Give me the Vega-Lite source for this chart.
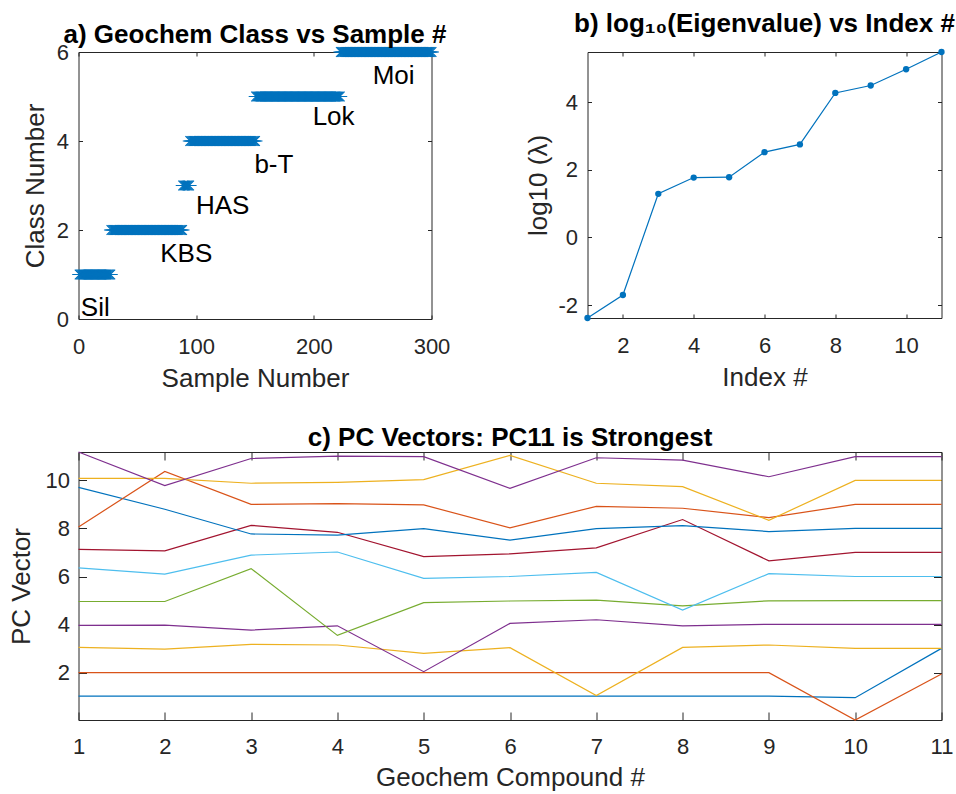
{
  "$schema": "https://vega.github.io/schema/vega-lite/v6.json",
  "padding": {"left": 7.5, "top": 10, "right": 0, "bottom": 0},
  "background": "white",
  "config": {
    "font": "Liberation Sans",
    "view": {"stroke": "#262626", "strokeWidth": 1},
    "axis": {"domain": false, "grid": false, "labelFont": "Liberation Sans", "labelFontSize": 22, "labelColor": "#262626", "titleFont": "Liberation Sans", "titleFontSize": 26, "titleFontWeight": "normal", "titleColor": "#262626", "tickColor": "#262626", "tickWidth": 1, "tickSize": -4, "labelFlush": false, "labelOverlap": false, "labelExpr": "'' + datum.value"},
    "title": {"font": "Liberation Sans", "fontSize": 26, "fontWeight": "bold", "color": "#000000", "baseline": "alphabetic", "anchor": "middle"}
  },
  "datasets": {
    "samples": [
      {"s":1,"c":1},{"s":2,"c":1},{"s":3,"c":1},{"s":4,"c":1},{"s":5,"c":1},{"s":6,"c":1},{"s":7,"c":1},{"s":8,"c":1},{"s":9,"c":1},{"s":10,"c":1},
      {"s":11,"c":1},{"s":12,"c":1},{"s":13,"c":1},{"s":14,"c":1},{"s":15,"c":1},{"s":16,"c":1},{"s":17,"c":1},{"s":18,"c":1},{"s":19,"c":1},{"s":20,"c":1},
      {"s":21,"c":1},{"s":22,"c":1},{"s":23,"c":1},{"s":24,"c":1},{"s":25,"c":1},{"s":26,"c":1},{"s":27,"c":1},
      {"s":28,"c":2},{"s":29,"c":2},{"s":30,"c":2},{"s":31,"c":2},{"s":32,"c":2},{"s":33,"c":2},{"s":34,"c":2},{"s":35,"c":2},{"s":36,"c":2},{"s":37,"c":2},
      {"s":38,"c":2},{"s":39,"c":2},{"s":40,"c":2},{"s":41,"c":2},{"s":42,"c":2},{"s":43,"c":2},{"s":44,"c":2},{"s":45,"c":2},{"s":46,"c":2},{"s":47,"c":2},
      {"s":48,"c":2},{"s":49,"c":2},{"s":50,"c":2},{"s":51,"c":2},{"s":52,"c":2},{"s":53,"c":2},{"s":54,"c":2},{"s":55,"c":2},{"s":56,"c":2},{"s":57,"c":2},
      {"s":58,"c":2},{"s":59,"c":2},{"s":60,"c":2},{"s":61,"c":2},{"s":62,"c":2},{"s":63,"c":2},{"s":64,"c":2},{"s":65,"c":2},{"s":66,"c":2},{"s":67,"c":2},
      {"s":68,"c":2},{"s":69,"c":2},{"s":70,"c":2},{"s":71,"c":2},{"s":72,"c":2},{"s":73,"c":2},{"s":74,"c":2},{"s":75,"c":2},{"s":76,"c":2},{"s":77,"c":2},
      {"s":78,"c":2},{"s":79,"c":2},{"s":80,"c":2},{"s":81,"c":2},{"s":82,"c":2},{"s":83,"c":2},{"s":84,"c":2},{"s":85,"c":2},{"s":86,"c":2},{"s":87,"c":2},
      {"s":88,"c":2},
      {"s":89,"c":3},{"s":90,"c":3},{"s":91,"c":3},{"s":92,"c":3},{"s":93,"c":3},{"s":94,"c":3},
      {"s":95,"c":4},{"s":96,"c":4},{"s":97,"c":4},{"s":98,"c":4},{"s":99,"c":4},{"s":100,"c":4},{"s":101,"c":4},{"s":102,"c":4},{"s":103,"c":4},{"s":104,"c":4},
      {"s":105,"c":4},{"s":106,"c":4},{"s":107,"c":4},{"s":108,"c":4},{"s":109,"c":4},{"s":110,"c":4},{"s":111,"c":4},{"s":112,"c":4},{"s":113,"c":4},{"s":114,"c":4},
      {"s":115,"c":4},{"s":116,"c":4},{"s":117,"c":4},{"s":118,"c":4},{"s":119,"c":4},{"s":120,"c":4},{"s":121,"c":4},{"s":122,"c":4},{"s":123,"c":4},{"s":124,"c":4},
      {"s":125,"c":4},{"s":126,"c":4},{"s":127,"c":4},{"s":128,"c":4},{"s":129,"c":4},{"s":130,"c":4},{"s":131,"c":4},{"s":132,"c":4},{"s":133,"c":4},{"s":134,"c":4},
      {"s":135,"c":4},{"s":136,"c":4},{"s":137,"c":4},{"s":138,"c":4},{"s":139,"c":4},{"s":140,"c":4},{"s":141,"c":4},{"s":142,"c":4},{"s":143,"c":4},{"s":144,"c":4},
      {"s":145,"c":4},{"s":146,"c":4},{"s":147,"c":4},{"s":148,"c":4},{"s":149,"c":4},{"s":150,"c":4},
      {"s":151,"c":5},{"s":152,"c":5},{"s":153,"c":5},{"s":154,"c":5},{"s":155,"c":5},{"s":156,"c":5},{"s":157,"c":5},{"s":158,"c":5},{"s":159,"c":5},{"s":160,"c":5},
      {"s":161,"c":5},{"s":162,"c":5},{"s":163,"c":5},{"s":164,"c":5},{"s":165,"c":5},{"s":166,"c":5},{"s":167,"c":5},{"s":168,"c":5},{"s":169,"c":5},{"s":170,"c":5},
      {"s":171,"c":5},{"s":172,"c":5},{"s":173,"c":5},{"s":174,"c":5},{"s":175,"c":5},{"s":176,"c":5},{"s":177,"c":5},{"s":178,"c":5},{"s":179,"c":5},{"s":180,"c":5},
      {"s":181,"c":5},{"s":182,"c":5},{"s":183,"c":5},{"s":184,"c":5},{"s":185,"c":5},{"s":186,"c":5},{"s":187,"c":5},{"s":188,"c":5},{"s":189,"c":5},{"s":190,"c":5},
      {"s":191,"c":5},{"s":192,"c":5},{"s":193,"c":5},{"s":194,"c":5},{"s":195,"c":5},{"s":196,"c":5},{"s":197,"c":5},{"s":198,"c":5},{"s":199,"c":5},{"s":200,"c":5},
      {"s":201,"c":5},{"s":202,"c":5},{"s":203,"c":5},{"s":204,"c":5},{"s":205,"c":5},{"s":206,"c":5},{"s":207,"c":5},{"s":208,"c":5},{"s":209,"c":5},{"s":210,"c":5},
      {"s":211,"c":5},{"s":212,"c":5},{"s":213,"c":5},{"s":214,"c":5},{"s":215,"c":5},{"s":216,"c":5},{"s":217,"c":5},{"s":218,"c":5},{"s":219,"c":5},{"s":220,"c":5},
      {"s":221,"c":5},{"s":222,"c":5},
      {"s":223,"c":6},{"s":224,"c":6},{"s":225,"c":6},{"s":226,"c":6},{"s":227,"c":6},{"s":228,"c":6},{"s":229,"c":6},{"s":230,"c":6},
      {"s":231,"c":6},{"s":232,"c":6},{"s":233,"c":6},{"s":234,"c":6},{"s":235,"c":6},{"s":236,"c":6},{"s":237,"c":6},{"s":238,"c":6},{"s":239,"c":6},{"s":240,"c":6},
      {"s":241,"c":6},{"s":242,"c":6},{"s":243,"c":6},{"s":244,"c":6},{"s":245,"c":6},{"s":246,"c":6},{"s":247,"c":6},{"s":248,"c":6},{"s":249,"c":6},{"s":250,"c":6},
      {"s":251,"c":6},{"s":252,"c":6},{"s":253,"c":6},{"s":254,"c":6},{"s":255,"c":6},{"s":256,"c":6},{"s":257,"c":6},{"s":258,"c":6},{"s":259,"c":6},{"s":260,"c":6},
      {"s":261,"c":6},{"s":262,"c":6},{"s":263,"c":6},{"s":264,"c":6},{"s":265,"c":6},{"s":266,"c":6},{"s":267,"c":6},{"s":268,"c":6},{"s":269,"c":6},{"s":270,"c":6},
      {"s":271,"c":6},{"s":272,"c":6},{"s":273,"c":6},{"s":274,"c":6},{"s":275,"c":6},{"s":276,"c":6},{"s":277,"c":6},{"s":278,"c":6},{"s":279,"c":6},{"s":280,"c":6},
      {"s":281,"c":6},{"s":282,"c":6},{"s":283,"c":6},{"s":284,"c":6},{"s":285,"c":6},{"s":286,"c":6},{"s":287,"c":6},{"s":288,"c":6},{"s":289,"c":6},{"s":290,"c":6},
      {"s":291,"c":6},{"s":292,"c":6},{"s":293,"c":6},{"s":294,"c":6},{"s":295,"c":6},{"s":296,"c":6},{"s":297,"c":6},{"s":298,"c":6},{"s":299,"c":6},{"s":300,"c":6}
    ],
    "labels": [
      {"x":2,"y":0.07,"t":"Sil"},
      {"x":69.5,"y":1.27,"t":"KBS"},
      {"x":99.8,"y":2.35,"t":"HAS"},
      {"x":149.5,"y":3.29,"t":"b-T"},
      {"x":199,"y":4.36,"t":"Lok"},
      {"x":250,"y":5.29,"t":"Moi"}
    ],
    "eig": [
      {"i":1,"v":-2.38},{"i":2,"v":-1.70},{"i":3,"v":1.29},{"i":4,"v":1.77},{"i":5,"v":1.78},{"i":6,"v":2.52},
      {"i":7,"v":2.75},{"i":8,"v":4.27},{"i":9,"v":4.49},{"i":10,"v":4.97},{"i":11,"v":5.48}
    ],
    "pc": [
      {"pc":1,"k":1,"v":1.02},{"pc":1,"k":2,"v":1.02},{"pc":1,"k":3,"v":1.02},{"pc":1,"k":4,"v":1.02},{"pc":1,"k":5,"v":1.02},{"pc":1,"k":6,"v":1.02},{"pc":1,"k":7,"v":1.02},{"pc":1,"k":8,"v":1.02},{"pc":1,"k":9,"v":1.02},{"pc":1,"k":10,"v":0.96},{"pc":1,"k":11,"v":3.01},
      {"pc":2,"k":1,"v":2.0},{"pc":2,"k":2,"v":2.0},{"pc":2,"k":3,"v":2.0},{"pc":2,"k":4,"v":2.0},{"pc":2,"k":5,"v":2.0},{"pc":2,"k":6,"v":2.0},{"pc":2,"k":7,"v":2.0},{"pc":2,"k":8,"v":2.0},{"pc":2,"k":9,"v":2.0},{"pc":2,"k":10,"v":0.03},{"pc":2,"k":11,"v":1.94},
      {"pc":3,"k":1,"v":3.05},{"pc":3,"k":2,"v":2.98},{"pc":3,"k":3,"v":3.18},{"pc":3,"k":4,"v":3.15},{"pc":3,"k":5,"v":2.80},{"pc":3,"k":6,"v":3.04},{"pc":3,"k":7,"v":1.05},{"pc":3,"k":8,"v":3.05},{"pc":3,"k":9,"v":3.15},{"pc":3,"k":10,"v":3.01},{"pc":3,"k":11,"v":3.01},
      {"pc":4,"k":1,"v":3.97},{"pc":4,"k":2,"v":3.98},{"pc":4,"k":3,"v":3.77},{"pc":4,"k":4,"v":3.95},{"pc":4,"k":5,"v":2.04},{"pc":4,"k":6,"v":4.05},{"pc":4,"k":7,"v":4.20},{"pc":4,"k":8,"v":3.95},{"pc":4,"k":9,"v":4.01},{"pc":4,"k":10,"v":4.01},{"pc":4,"k":11,"v":4.01},
      {"pc":5,"k":1,"v":4.96},{"pc":5,"k":2,"v":4.96},{"pc":5,"k":3,"v":6.33},{"pc":5,"k":4,"v":3.55},{"pc":5,"k":5,"v":4.91},{"pc":5,"k":6,"v":4.98},{"pc":5,"k":7,"v":5.02},{"pc":5,"k":8,"v":4.78},{"pc":5,"k":9,"v":4.99},{"pc":5,"k":10,"v":5.0},{"pc":5,"k":11,"v":5.0},
      {"pc":6,"k":1,"v":6.36},{"pc":6,"k":2,"v":6.10},{"pc":6,"k":3,"v":6.89},{"pc":6,"k":4,"v":7.02},{"pc":6,"k":5,"v":5.92},{"pc":6,"k":6,"v":6.0},{"pc":6,"k":7,"v":6.17},{"pc":6,"k":8,"v":4.60},{"pc":6,"k":9,"v":6.12},{"pc":6,"k":10,"v":6.0},{"pc":6,"k":11,"v":6.0},
      {"pc":7,"k":1,"v":7.13},{"pc":7,"k":2,"v":7.07},{"pc":7,"k":3,"v":8.13},{"pc":7,"k":4,"v":7.84},{"pc":7,"k":5,"v":6.83},{"pc":7,"k":6,"v":6.94},{"pc":7,"k":7,"v":7.19},{"pc":7,"k":8,"v":8.37},{"pc":7,"k":9,"v":6.65},{"pc":7,"k":10,"v":7.0},{"pc":7,"k":11,"v":7.0},
      {"pc":8,"k":1,"v":9.71},{"pc":8,"k":2,"v":8.80},{"pc":8,"k":3,"v":7.77},{"pc":8,"k":4,"v":7.72},{"pc":8,"k":5,"v":7.99},{"pc":8,"k":6,"v":7.51},{"pc":8,"k":7,"v":7.99},{"pc":8,"k":8,"v":8.12},{"pc":8,"k":9,"v":7.87},{"pc":8,"k":10,"v":8.0},{"pc":8,"k":11,"v":8.0},
      {"pc":9,"k":1,"v":8.06},{"pc":9,"k":2,"v":10.37},{"pc":9,"k":3,"v":9.0},{"pc":9,"k":4,"v":9.03},{"pc":9,"k":5,"v":8.98},{"pc":9,"k":6,"v":8.02},{"pc":9,"k":7,"v":8.92},{"pc":9,"k":8,"v":8.84},{"pc":9,"k":9,"v":8.45},{"pc":9,"k":10,"v":9.0},{"pc":9,"k":11,"v":9.0},
      {"pc":10,"k":1,"v":10.08},{"pc":10,"k":2,"v":10.08},{"pc":10,"k":3,"v":9.88},{"pc":10,"k":4,"v":9.92},{"pc":10,"k":5,"v":10.03},{"pc":10,"k":6,"v":11.04},{"pc":10,"k":7,"v":9.88},{"pc":10,"k":8,"v":9.74},{"pc":10,"k":9,"v":8.34},{"pc":10,"k":10,"v":10.0},{"pc":10,"k":11,"v":10.0},
      {"pc":11,"k":1,"v":11.18},{"pc":11,"k":2,"v":9.78},{"pc":11,"k":3,"v":10.91},{"pc":11,"k":4,"v":11.01},{"pc":11,"k":5,"v":10.99},{"pc":11,"k":6,"v":9.67},{"pc":11,"k":7,"v":10.94},{"pc":11,"k":8,"v":10.84},{"pc":11,"k":9,"v":10.15},{"pc":11,"k":10,"v":10.99},{"pc":11,"k":11,"v":10.99}
    ]
  },
  "vconcat": [
    {
      "hconcat": [
        {
          "width": 353, "height": 267,
          "title": {"text": "a) Geochem Class vs Sample #", "offset": -7},
          "layer": [
            {
              "data": {"name": "samples"},
              "mark": {"type": "point", "shape": "M-1,0L1,0M0,-0.65L0,0.65M-0.65,-0.65L0.65,0.65M-0.65,0.65L0.65,-0.65", "filled": false, "stroke": "#0072BD", "strokeWidth": 1.2, "size": 225, "opacity": 1},
              "encoding": {
                "x": {"field": "s", "type": "quantitative", "scale": {"domain": [0, 300], "nice": false, "zero": false}, "axis": {"values": [0, 100, 200, 300], "title": "Sample Number", "labelPadding": 21, "titlePadding": 8}},
                "y": {"field": "c", "type": "quantitative", "scale": {"domain": [0, 6], "nice": false, "zero": false}, "axis": {"values": [0, 2, 4, 6], "title": "Class Number", "labelPadding": 14, "titlePadding": 8}}
              }
            },
            {
              "data": {"name": "labels"},
              "mark": {"type": "text", "align": "left", "baseline": "alphabetic", "fontSize": 26, "color": "#000000", "font": "Liberation Sans"},
              "encoding": {
                "x": {"field": "x", "type": "quantitative", "axis": {"orient": "top", "labels": false, "title": null, "values": [0, 100, 200, 300]}},
                "y": {"field": "y", "type": "quantitative", "axis": {"orient": "right", "labels": false, "title": null, "values": [0, 2, 4, 6]}},
                "text": {"field": "t"}
              }
            }
          ],
          "resolve": {"axis": {"x": "independent", "y": "independent"}}
        },
        {
          "width": 354, "height": 266,
          "title": {"text": "b) log₁₀(Eigenvalue) vs Index #", "offset": 12},
          "data": {"name": "eig"},
          "layer": [
            {
              "mark": {"type": "line", "color": "#0072BD", "strokeWidth": 1.2},
              "encoding": {
                "x": {"field": "i", "type": "quantitative", "scale": {"domain": [1, 11], "nice": false, "zero": false}, "axis": {"values": [2, 4, 6, 8, 10], "title": "Index #", "labelPadding": 21, "titlePadding": 8}},
                "y": {"field": "v", "type": "quantitative", "scale": {"domain": [-2.38, 5.48], "nice": false, "zero": false}, "axis": {"values": [-2, 0, 2, 4], "title": "log10 (λ)", "labelPadding": 14, "titlePadding": 6}}
              }
            },
            {
              "mark": {"type": "point", "filled": true, "color": "#0072BD", "size": 40, "opacity": 1},
              "encoding": {
                "x": {"field": "i", "type": "quantitative", "axis": {"orient": "top", "labels": false, "title": null, "values": [2, 4, 6, 8, 10]}},
                "y": {"field": "v", "type": "quantitative", "axis": {"orient": "right", "labels": false, "title": null, "values": [-2, 0, 2, 4]}}
              }
            }
          ],
          "resolve": {"axis": {"x": "independent", "y": "independent"}}
        }
      ],
      "spacing": 156,
      "bounds": "flush"
    },
    {
      "width": 863, "height": 268,
      "title": {"text": "c) PC Vectors: PC11 is Strongest", "offset": -1},
      "data": {"name": "pc"},
      "layer": [
        {
          "mark": {"type": "line", "strokeWidth": 1.2},
          "encoding": {
            "x": {"field": "k", "type": "quantitative", "scale": {"domain": [1, 11], "nice": false, "zero": false}, "axis": {"values": [1, 2, 3, 4, 5, 6, 7, 8, 9, 10, 11], "title": "Geochem Compound #", "tickSize": -8, "labelPadding": 24, "titlePadding": 7}},
            "y": {"field": "v", "type": "quantitative", "scale": {"domain": [0.03, 11.18], "nice": false, "zero": false}, "axis": {"values": [2, 4, 6, 8, 10], "title": "PC Vector", "tickSize": -8, "labelPadding": 17, "titlePadding": 10.5}},
            "color": {"field": "pc", "type": "nominal", "scale": {"domain": [1, 2, 3, 4, 5, 6, 7, 8, 9, 10, 11], "range": ["#0072BD", "#D95319", "#EDB120", "#7E2F8E", "#77AC30", "#4DBEEE", "#A2142F", "#0072BD", "#D95319", "#EDB120", "#7E2F8E"]}, "legend": null}
          }
        },
        {
          "mark": {"type": "line", "opacity": 0},
          "encoding": {
            "x": {"field": "k", "type": "quantitative", "axis": {"orient": "top", "labels": false, "title": null, "tickSize": -8, "values": [1, 2, 3, 4, 5, 6, 7, 8, 9, 10, 11]}},
            "y": {"field": "v", "type": "quantitative", "axis": {"orient": "right", "labels": false, "title": null, "tickSize": -8, "values": [2, 4, 6, 8, 10]}},
            "detail": {"field": "pc"}
          }
        }
      ],
      "resolve": {"axis": {"x": "independent", "y": "independent"}}
    }
  ],
  "spacing": 32
}
